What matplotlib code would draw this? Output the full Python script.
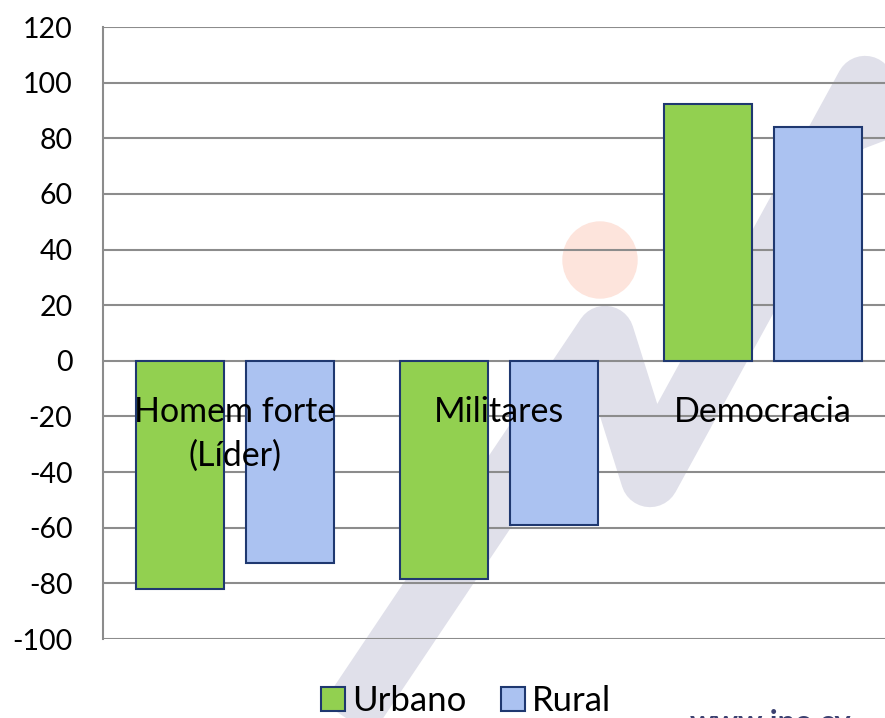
import matplotlib.pyplot as plt
import numpy as np
from matplotlib.lines import Line2D
from matplotlib.patches import Ellipse, Patch

categories = ['Homem forte\n(Líder)', 'Militares', 'Democracia']
urbano = [-82, -78.5, 92.5]
rural = [-72.5, -59, 84]
yticks = list(range(-100, 121, 20))

plt.rcParams['font.family'] = ['Lato', 'DejaVu Sans']
plt.rcParams['axes.unicode_minus'] = False

W, H = 885, 718
fig = plt.figure(figsize=(W / 100, H / 100), dpi=100)

# watermark drawn on the figure, behind the axes (pixel coords, y down)
zz = np.array([(330, 745), (605, 335), (650, 478), (865, 85), (905, 190)])
fig.add_artist(Line2D(zz[:, 0] / W, 1 - zz[:, 1] / H, transform=fig.transFigure,
                      color='#e0e0ea', lw=42, solid_joinstyle='round',
                      solid_capstyle='butt', zorder=0))
fig.add_artist(Ellipse((600 / W, 1 - 260 / H), 74 / W, 76 / H,
                       transform=fig.transFigure, color='#fde4dc', zorder=0))
fig.text(690 / W, 1 - 709 / H, 'www.ipo.cv', color='#3b4070', fontsize=22,
         fontweight='bold', va='top', ha='left', zorder=0)

ax = fig.add_axes([103 / W, 79 / H, 792 / W, 612 / H])
ax.patch.set_alpha(0)

x = np.arange(len(categories))
w = 0.333
off = 0.208
edge = '#1f3870'
ax.bar(x - off, urbano, w, color='#92d050', edgecolor=edge, linewidth=1.5,
       label='Urbano', zorder=3)
ax.bar(x + off, rural, w, color='#abc2f1', edgecolor=edge, linewidth=1.5,
       label='Rural', zorder=3)

for xi, name in zip(x, categories):
    ax.text(xi, -12.5, name, ha='center', va='top', fontsize=24.5,
            linespacing=1.45, zorder=4)

ax.set_xlim(-0.5, 2.5)
ax.set_ylim(-100, 120)
ax.set_yticks(yticks)
ax.set_xticks([])
ax.yaxis.grid(True, color='#8c8c8c', linewidth=1.5, zorder=1)
ax.set_axisbelow(True)
ax.tick_params(axis='y', length=0, pad=22, labelsize=20.5)
for s in ['top', 'right', 'bottom']:
    ax.spines[s].set_visible(False)
ax.spines['left'].set_color('#8c8c8c')
ax.spines['left'].set_linewidth(1.5)

handles = [Patch(facecolor='#92d050', edgecolor=edge, linewidth=1.5, label='Urbano'),
           Patch(facecolor='#abc2f1', edgecolor=edge, linewidth=1.5, label='Rural')]
fig.legend(handles=handles, loc='center', bbox_to_anchor=(466 / W, 1 - 701 / H),
           ncol=2, frameon=False, fontsize=25, handlelength=0.7, handleheight=0.7,
           handletextpad=0.2, columnspacing=1.0, borderpad=0)

fig.savefig('out.png', dpi=100)
